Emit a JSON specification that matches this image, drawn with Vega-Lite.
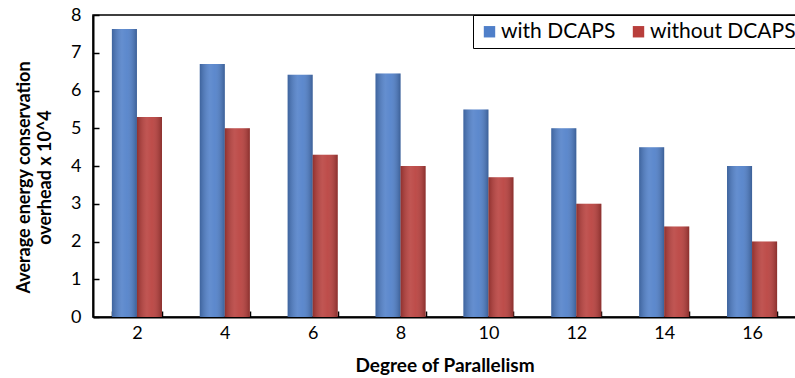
{
  "$schema": "https://vega.github.io/schema/vega-lite/v6.json",
  "width": 703,
  "height": 302,
  "autosize": {"type": "none"},
  "padding": {"left": 93, "top": 15, "right": 0, "bottom": 61},
  "background": "white",
  "config": {
    "font": "Lato",
    "view": {"stroke": "black", "strokeWidth": 1.5},
    "axis": {"domainColor": "black", "domainWidth": 2, "tickColor": "black", "tickWidth": 1.5, "labelColor": "black", "titleColor": "black", "grid": false}
  },
  "data": {
    "values": [
      {"degree": 2, "series": "with DCAPS", "value": 7.63},
      {"degree": 2, "series": "without DCAPS", "value": 5.3},
      {"degree": 4, "series": "with DCAPS", "value": 6.7},
      {"degree": 4, "series": "without DCAPS", "value": 5.0},
      {"degree": 6, "series": "with DCAPS", "value": 6.42},
      {"degree": 6, "series": "without DCAPS", "value": 4.3},
      {"degree": 8, "series": "with DCAPS", "value": 6.45},
      {"degree": 8, "series": "without DCAPS", "value": 4.0},
      {"degree": 10, "series": "with DCAPS", "value": 5.5},
      {"degree": 10, "series": "without DCAPS", "value": 3.7},
      {"degree": 12, "series": "with DCAPS", "value": 5.0},
      {"degree": 12, "series": "without DCAPS", "value": 3.0},
      {"degree": 14, "series": "with DCAPS", "value": 4.5},
      {"degree": 14, "series": "without DCAPS", "value": 2.4},
      {"degree": 16, "series": "with DCAPS", "value": 4.0},
      {"degree": 16, "series": "without DCAPS", "value": 2.0}
    ]
  },
  "encoding": {
    "x": {
      "field": "degree",
      "type": "ordinal",
      "scale": {"paddingInner": 0.43, "paddingOuter": 0.215},
      "axis": {
        "title": "Degree of Parallelism",
        "titleFontSize": 19,
        "titleFontWeight": "bold",
        "titlePadding": 14,
        "labelAngle": 0,
        "labelFontSize": 18,
        "labelPadding": 13,
        "tickBand": "extent",
        "tickSize": -6
      }
    },
    "xOffset": {"field": "series", "sort": ["with DCAPS", "without DCAPS"]},
    "y": {
      "field": "value",
      "type": "quantitative",
      "scale": {"domain": [0, 8]},
      "axis": {
        "values": [0, 1, 2, 3, 4, 5, 6, 7, 8],
        "title": ["Average energy conservation", "overhead x 10^4"],
        "titleFontSize": 18,
        "titleFontWeight": "bold",
        "titleLineHeight": 21,
        "titlePadding": 16,
        "titleY": 162,
        "labelFontSize": 18,
        "labelPadding": 18,
        "tickSize": -6
      }
    }
  },
  "layer": [
    {
      "mark": {"type": "bar"},
      "encoding": {
        "color": {
          "field": "series",
          "type": "nominal",
          "scale": {"domain": ["with DCAPS", "without DCAPS"], "range": ["#4f7fc9", "#b83e3b"]},
          "legend": {
            "title": null,
            "orient": "none",
            "legendX": 380,
            "legendY": 0,
            "direction": "horizontal",
            "strokeColor": "black",
            "fillColor": "white",
            "padding": 6,
            "labelFontSize": 21,
            "labelColor": "black",
            "labelOffset": 1,
            "symbolType": "square",
            "symbolSize": 130,
            "symbolOpacity": 1,
            "columnPadding": 12
          }
        }
      }
    },
    {
      "mark": {
        "type": "bar",
        "fill": {
          "gradient": "linear",
          "x1": 0, "y1": 0, "x2": 1, "y2": 0,
          "stops": [
            {"offset": 0, "color": "rgba(0,0,0,0.22)"},
            {"offset": 0.4, "color": "rgba(255,255,255,0.12)"},
            {"offset": 0.6, "color": "rgba(255,255,255,0.08)"},
            {"offset": 1, "color": "rgba(0,0,0,0.25)"}
          ]
        }
      }
    }
  ]
}
